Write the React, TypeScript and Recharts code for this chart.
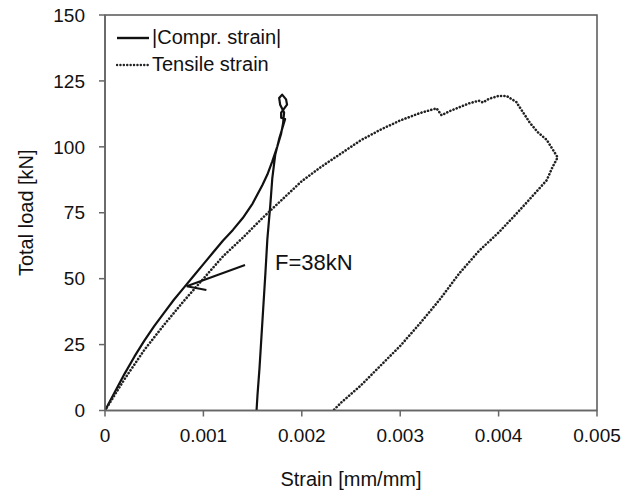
import React from 'react';
import {
  LineChart,
  Line,
  XAxis,
  YAxis,
  Legend,
  ReferenceArea,
  ReferenceLine,
  ReferenceDot
} from 'recharts';

// |Compr. strain| : loading branch, loop at peak, then unloading branch
const comprStrain = [
  0, 0.0001, 0.0002, 0.0003, 0.0004, 0.0005, 0.0006, 0.0007, 0.0008, 0.0009, 0.001,
  0.0011, 0.0012, 0.0013, 0.0014, 0.0015, 0.0016, 0.00165, 0.0017, 0.00175, 0.00179,
  0.00181, 0.00182, 0.00178, 0.00177, 0.0018, 0.00184, 0.00185, 0.00182, 0.00179, 0.00179,
  0.00183, 0.00181, 0.00177, 0.00173, 0.0017, 0.00168, 0.00165, 0.00163, 0.00161, 0.00159,
  0.00157, 0.00155, 0.00154
];
const comprLoad = [
  0, 7, 14, 20.5, 26.5, 32, 37, 42, 46.5, 51, 55.5,
  60, 64.5, 68.5, 73, 78.5, 85.5, 89.5, 94.5, 100, 105,
  109, 113, 116, 118.5, 119.8, 118, 116, 114.5, 113, 111,
  110.5, 108, 103, 97, 88, 78, 65, 52, 40, 28,
  16, 6, 0
];

// Tensile strain
const tensStrain = [
  0, 0.0002, 0.0004, 0.0006, 0.0008, 0.001, 0.0012, 0.0014, 0.0016, 0.0018, 0.002,
  0.0022, 0.0024, 0.0026, 0.0028, 0.003, 0.0032, 0.00337, 0.00342, 0.0035, 0.0036,
  0.0037, 0.0038, 0.00384, 0.0039, 0.004, 0.00408, 0.00418, 0.00425, 0.00432, 0.0044,
  0.00449, 0.00455, 0.0046, 0.00455, 0.00449, 0.0043, 0.00415, 0.004, 0.0038, 0.0036,
  0.0034, 0.0032, 0.003, 0.0028, 0.0026, 0.0024, 0.00232
];
const tensLoad = [
  0, 12, 23, 32.5, 41.5, 50, 58.5, 65.5, 73, 80, 87,
  92.5, 97.5, 102.5, 106.5, 110, 112.8, 114.6, 112, 113.5, 115,
  116.5, 117.5, 116.8, 118.2, 119.3, 119.3, 117, 113, 109, 105.5,
  102.6, 99, 96, 92.5, 87.4, 79.5, 73.4, 67.5, 60.5, 52,
  42, 33, 24.5, 17, 9.5, 3, 0
];

const seriesNames = ['|Compr. strain|', 'Tensile strain'];
const xTicks = [0, 0.001, 0.002, 0.003, 0.004, 0.005];
const yTicks = [0, 25, 50, 75, 100, 125, 150];

// annotation arrow (tail -> tip, one open wing) and label anchor, in data units
const arrowTail = { x: 0.001423, y: 55.2 };
const arrowTip = { x: 0.00083, y: 47.1 };
const arrowWing = { x: 0.00103, y: 45.7 };
const noteAt = { x: 0.001728, y: 56.3, text: 'F=38kN' };

const comprData = comprStrain.map((x, i) => ({ x, y: comprLoad[i] }));
const tensData = tensStrain.map((x, i) => ({ x, y: tensLoad[i] }));

const FONT = '"Liberation Sans", Arial, sans-serif';

const YTitle = (props: any) => {
  const vb = props.viewBox || { x: 0, y: 15, width: 105, height: 395 };
  const cx = 26;
  const cy = vb.y + vb.height / 2;
  return (
    <text
      x={cx}
      y={cy}
      transform={`rotate(-90, ${cx}, ${cy})`}
      textAnchor="middle"
      dominantBaseline="central"
      fontSize={20}
      fill="#111"
      fontFamily={FONT}
    >
      Total load [kN]
    </text>
  );
};

const LegendBox = (props: any) => {
  const items = [...(props.payload || [])].sort(
    (a: any, b: any) => seriesNames.indexOf(a.value) - seriesNames.indexOf(b.value)
  );
  return (
    <div style={{ fontFamily: FONT, fontSize: 20, color: '#111' }}>
      {items.map((item: any) => {
        const dashed = item.payload?.strokeDasharray;
        return (
          <div key={item.value} style={{ display: 'flex', alignItems: 'center', height: 27 }}>
            <svg width={34} height={10} style={{ marginRight: 2 }}>
              <line
                x1={1}
                y1={5}
                x2={33}
                y2={5}
                stroke={item.color}
                strokeWidth={dashed ? 2.4 : 2.4}
                strokeDasharray={dashed}
                strokeLinecap={dashed ? 'round' : 'butt'}
              />
            </svg>
            <span style={{ lineHeight: '27px' }}>{item.value}</span>
          </div>
        );
      })}
    </div>
  );
};

const App = () => {
  return (
    <div style={{ position: 'absolute', left: 0, top: 0, background: '#fff' }}>
      <LineChart
        width={634}
        height={494}
        margin={{ top: 15, right: 37, left: 0, bottom: 0 }}
        style={{ fontFamily: FONT }}
      >
        <XAxis
          type="number"
          dataKey="x"
          domain={[0, 0.005]}
          ticks={xTicks}
          allowDataOverflow
          height={83.5}
          tickSize={6}
          tickMargin={12}
          tickFormatter={(v: number) => (v === 0 ? '0' : v.toFixed(3))}
          tick={{ fontSize: 19, fill: '#111' }}
          stroke="#666"
          strokeWidth={1.5}
          label={{ value: 'Strain [mm/mm]', position: 'insideBottom', offset: 8, fontSize: 20, fill: '#111' }}
        />
        <YAxis
          type="number"
          dataKey="y"
          domain={[0, 150]}
          ticks={yTicks}
          allowDataOverflow
          width={105}
          tickSize={6}
          tickMargin={14}
          tick={{ fontSize: 19, fill: '#111' }}
          stroke="#666"
          strokeWidth={1.5}
          label={<YTitle />}
        />
        <ReferenceArea
          x1={0}
          x2={0.005}
          y1={0}
          y2={150}
          fill="none"
          stroke="#555"
          strokeWidth={1.5}
          ifOverflow="visible"
        />
        <Legend
          layout="vertical"
          align="center"
          verticalAlign="middle"
          wrapperStyle={{ top: 24, left: 116, width: 'auto' }}
          content={<LegendBox />}
        />
        <Line
          data={comprData}
          dataKey="y"
          name={seriesNames[0]}
          type="linear"
          stroke="#111"
          strokeWidth={2.2}
          strokeLinejoin="round"
          dot={false}
          activeDot={false}
          isAnimationActive={false}
        />
        <Line
          data={tensData}
          dataKey="y"
          name={seriesNames[1]}
          type="linear"
          stroke="#222"
          strokeWidth={2.6}
          strokeDasharray="0.1 3.3"
          strokeLinecap="round"
          dot={false}
          activeDot={false}
          isAnimationActive={false}
        />
        <ReferenceLine
          segment={[arrowTail, arrowTip]}
          stroke="#111"
          strokeWidth={2}
          ifOverflow="visible"
        />
        <ReferenceLine
          segment={[arrowTip, arrowWing]}
          stroke="#111"
          strokeWidth={2}
          ifOverflow="visible"
        />
        <ReferenceDot
          x={noteAt.x}
          y={noteAt.y}
          r={0}
          fill="none"
          stroke="none"
          ifOverflow="visible"
          label={{ value: noteAt.text, position: 'right', offset: 0, fontSize: 22, fill: '#111' }}
        />
      </LineChart>
    </div>
  );
};

export default App;
